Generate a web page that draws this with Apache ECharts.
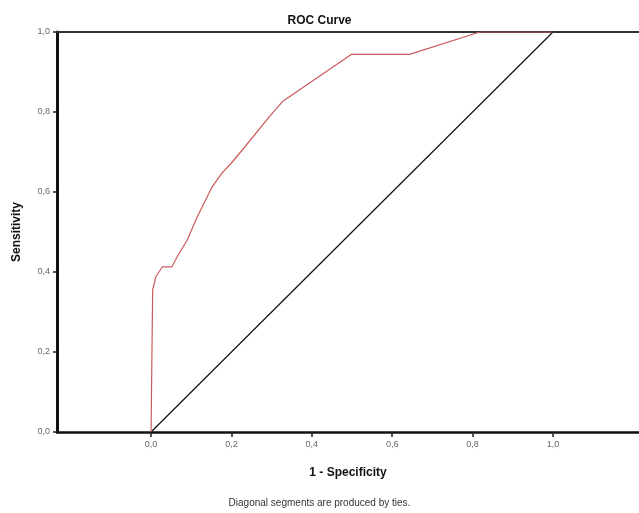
<!DOCTYPE html>
<html>
<head>
<meta charset="utf-8">
<script src="https://cdn.jsdelivr.net/npm/echarts@6/dist/echarts.min.js"></script>
<style>
  html, body { margin: 0; padding: 0; background: #fff; }
  #chart { width: 639px; height: 513px; }
</style>
</head>
<body>
<div id="chart"></div>
<script>
// ROC curve points (1 - specificity, sensitivity)
const fpr = [0, 0.004, 0.012, 0.028, 0.052, 0.065, 0.09, 0.115, 0.152, 0.177, 0.202, 0.227, 0.294, 0.327, 0.498, 0.643, 0.818, 1.0];
const tpr = [0, 0.355, 0.388, 0.413, 0.413, 0.438, 0.48, 0.538, 0.613, 0.648, 0.675, 0.705, 0.788, 0.826, 0.944, 0.944, 1.0, 1.0];
// reference line
const refX = [0, 1];
const refY = [0, 1];
const tickValues = [0, 0.2, 0.4, 0.6, 0.8, 1.0];

const fmt = v => Number(v).toFixed(1).replace('.', ',');
const font = 'Liberation Sans, Arial, sans-serif';

const chart = echarts.init(document.getElementById('chart'));
chart.setOption({
  animation: false,
  backgroundColor: '#fff',
  title: {
    text: 'ROC Curve',
    left: 'center',
    top: 10,
    textStyle: { fontFamily: font, fontSize: 12, fontWeight: 'bold', color: '#111' }
  },
  grid: { left: 57, right: 0, top: 32, bottom: 81 },
  xAxis: [{
    type: 'value',
    min: -0.234,
    max: 1.214,
    name: '1 - Specificity',
    nameLocation: 'middle',
    nameGap: 35,
    nameTextStyle: { fontFamily: font, fontSize: 12, fontWeight: 'bold', color: '#111' },
    splitLine: { show: false },
    axisLine: { onZero: false, lineStyle: { color: '#111', width: 2.5 } },
    axisTick: { show: true, length: 5, customValues: tickValues, lineStyle: { color: '#222', width: 1.5 } },
    axisLabel: { customValues: tickValues, formatter: fmt, margin: 8, fontFamily: font, fontSize: 9, color: '#666' }
  }, {
    type: 'value',
    position: 'top',
    min: -0.234,
    max: 1.214,
    splitLine: { show: false },
    axisLine: { show: true, onZero: false, lineStyle: { color: '#333', width: 2 } },
    axisTick: { show: false },
    axisLabel: { show: false }
  }],
  yAxis: {
    type: 'value',
    min: 0,
    max: 1,
    interval: 0.2,
    name: 'Sensitivity',
    nameLocation: 'middle',
    nameGap: 34,
    nameTextStyle: { fontFamily: font, fontSize: 12, fontWeight: 'bold', color: '#111' },
    splitLine: { show: false },
    axisLine: { show: true, onZero: false, lineStyle: { color: '#111', width: 3 } },
    axisTick: { show: true, length: 4, lineStyle: { color: '#222', width: 1.5 } },
    axisLabel: { formatter: fmt, margin: 7, fontFamily: font, fontSize: 9, color: '#666' }
  },
  series: [{
    type: 'line',
    name: 'Reference',
    data: refX.map((x, i) => [x, refY[i]]),
    showSymbol: false,
    lineStyle: { color: '#111', width: 1.2 }
  }, {
    type: 'line',
    name: 'ROC',
    data: fpr.map((x, i) => [x, tpr[i]]),
    showSymbol: false,
    lineStyle: { color: '#c95b5b', width: 1.2 }
  }],
  graphic: [{
    type: 'text',
    left: 'center',
    top: 498,
    style: { text: 'Diagonal segments are produced by ties.', fontFamily: font, fontSize: 10, fill: '#333' }
  }]
});
</script>
</body>
</html>
